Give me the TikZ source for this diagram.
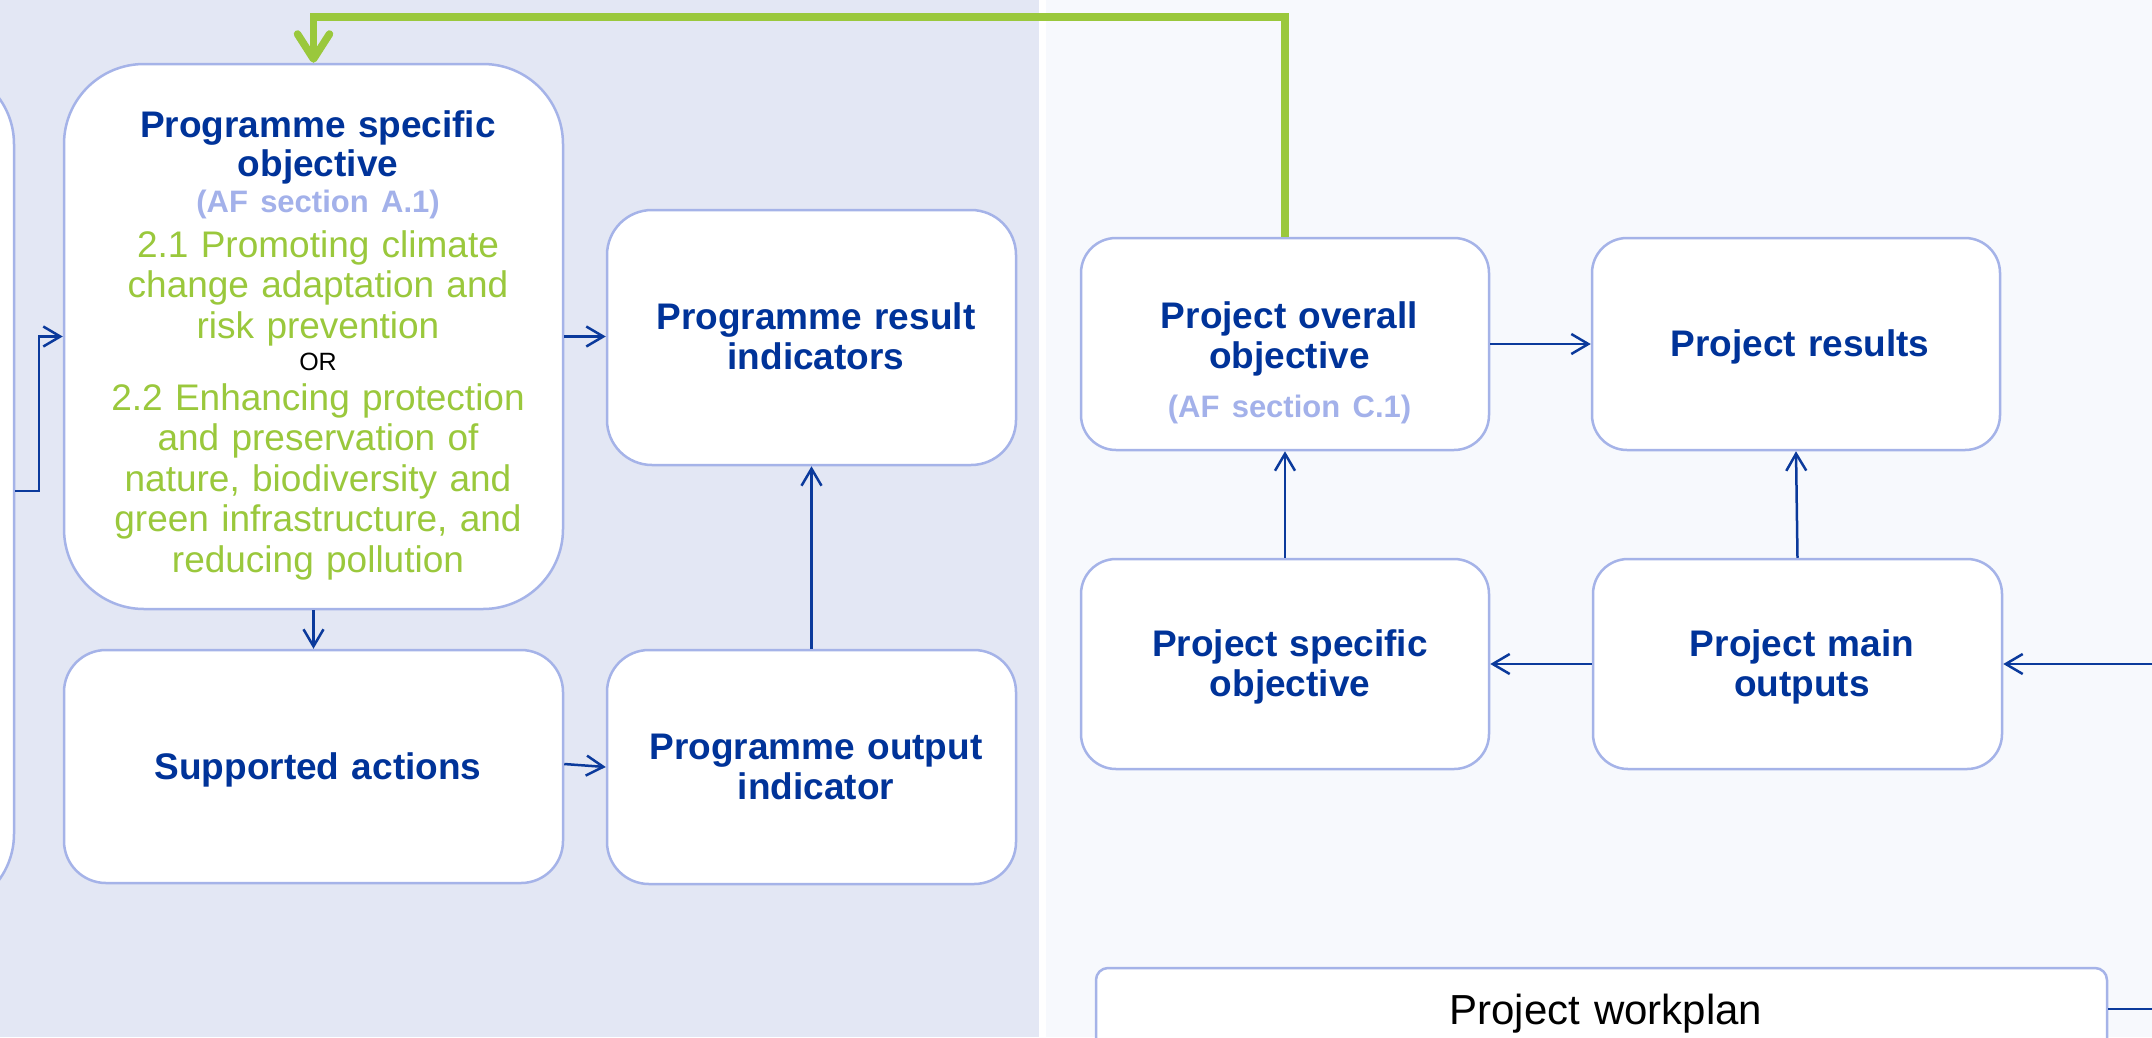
\documentclass[tikz,border=0pt]{standalone}
\usepackage{fontspec}
\setmainfont{Liberation Sans}
\usetikzlibrary{arrows.meta}
\definecolor{cnavy}{HTML}{003399}
\definecolor{linec}{HTML}{0B3A9C}
\definecolor{bordc}{HTML}{A5B3E8}
\definecolor{afc}{HTML}{A3B1EA}
\definecolor{grn}{HTML}{9AC83C}
\definecolor{lbg}{HTML}{E3E7F4}
\definecolor{rbg}{HTML}{F7F9FD}
\newcommand\mytitle{\fontsize{37pt}{40.5pt}\selectfont\bfseries}
\newcommand\mywp{\fontsize{42pt}{48pt}\selectfont\mdseries}
\newcommand\myaf[1]{\textcolor{afc}{\fontsize{31pt}{40.5pt}\selectfont #1}}
\newcommand\mygl[1]{\textcolor{grn}{\mdseries #1}}
\newcommand\myor[1]{\textcolor{black}{\mdseries\fontsize{25pt}{40.5pt}\selectfont #1}}
\begin{document}
\begin{tikzpicture}[x=1pt,y=1pt,
  pbox/.style={draw=bordc, line width=2.5pt, fill=white, inner sep=0pt, rounded corners=#1},
  pbox/.default=35pt,
  txt/.style={inner sep=0pt, anchor=base, text width=#1, align=center},
  txt/.default=380pt,
  arr/.style={draw=linec, line width=2.5pt, -{Straight Barb[length=17pt,width=20pt]}},
  garr/.style={draw=grn, line width=7.5pt, -{Straight Barb[length=25pt,width=32pt,round]}},
]
\useasboundingbox (0,0) rectangle (2152,-1037);
\clip (0,0) rectangle (2152,-1037);
% panels
\fill[lbg] (0,0) rectangle (1039,-1037);
\fill[white] (1039,0) rectangle (1046,-1037);
\fill[rbg] (1046,0) rectangle (2152,-1037);
% boxes
\node[pbox=78pt, minimum width=500pt, minimum height=846pt] (lb) at (-236,-489) {};
\node[pbox=80pt, minimum width=499pt, minimum height=545pt] (pso) at (313.5,-336.5) {};
\node[pbox=45pt, minimum width=409pt, minimum height=255pt] (pri) at (811.5,-337.5) {};
\node[pbox=42pt, minimum width=499pt, minimum height=233pt] (sa) at (313.5,-766.5) {};
\node[pbox=42pt, minimum width=409pt, minimum height=234pt] (poi) at (811.5,-767) {};
\node[pbox, minimum width=408pt, minimum height=212pt] (poo) at (1285,-344) {};
\node[pbox, minimum width=408pt, minimum height=212pt] (pr) at (1796,-344) {};
\node[pbox, minimum width=408pt, minimum height=210pt] (pspo) at (1285,-664) {};
\node[pbox, minimum width=409pt, minimum height=210pt] (pmo) at (1797.5,-664) {};
\node[pbox=12pt, minimum width=1011pt, minimum height=112pt] (pw) at (1601.5,-1024) {};
% texts
\node[txt=480pt, font=\mytitle, text=cnavy] (psot) at (318,-137)
  {Programme specific\\[-1.5pt]objective\\[-4.5pt]\myaf{(AF section A.1)}\\[4.5pt]%
   \mygl{2.1 Promoting climate}\\\mygl{change adaptation and}\\\mygl{risk prevention}\\[-8.5pt]%
   \myor{OR}\\[-0.5pt]%
   \mygl{2.2 Enhancing protection}\\\mygl{and preservation of}\\\mygl{nature, biodiversity and}\\%
   \mygl{green infrastructure, and}\\\mygl{reducing pollution}};
\node[txt, font=\mytitle, text=cnavy] (prit) at (816,-329) {Programme result\\indicators};
\node[txt, font=\mytitle, text=cnavy] (sat) at (318,-779) {Supported actions};
\node[txt, font=\mytitle, text=cnavy] (poit) at (816,-759) {Programme output\\indicator};
\node[txt, font=\mytitle, text=cnavy] (poot) at (1289.5,-328) {Project overall\\objective\\[8.5pt]\myaf{(AF section C.1)}};
\node[txt, font=\mytitle, text=cnavy] (prt) at (1800,-356) {Project results};
\node[txt, font=\mytitle, text=cnavy] (pspot) at (1290,-656) {Project specific\\objective};
\node[txt, font=\mytitle, text=cnavy] (pmot) at (1802,-656) {Project main\\outputs};
\node[txt=900pt, font=\mywp, text=black] (pwt) at (1606,-1024) {Project workplan};
% connectors
\coordinate (lk) at (39,-491);
\draw[arr] (lb.east |- lk) -- (lk) |- (pso.west);
\draw[arr] (pso.east) -- (pso.east -| pri.west);
\draw[arr] (pso.south) -- (sa.north);
\draw[arr] ([yshift=2.5pt]sa.east) -- (poi.west);
\draw[arr] (poi.north) -- (pri.south);
\draw[arr] (poo.east) -- (pr.west);
\draw[arr] (pspo.north) -- (poo.south);
\draw[arr] (pmo.north) -- (pr.south);
\draw[arr] (pmo.west) -- (pspo.east);
\coordinate (re) at (2152,-664);
\draw[arr] (re) -- (pmo.east);
\coordinate (pwe) at (2152,-1009);
\draw[draw=linec, line width=2.5pt] (pw.east |- pwe) -- (pwe);
\coordinate (gtop) at (0,-17);
\draw[garr] (poo.north) -- (poo.north |- gtop) -| (pso.north);
\end{tikzpicture}
\end{document}
